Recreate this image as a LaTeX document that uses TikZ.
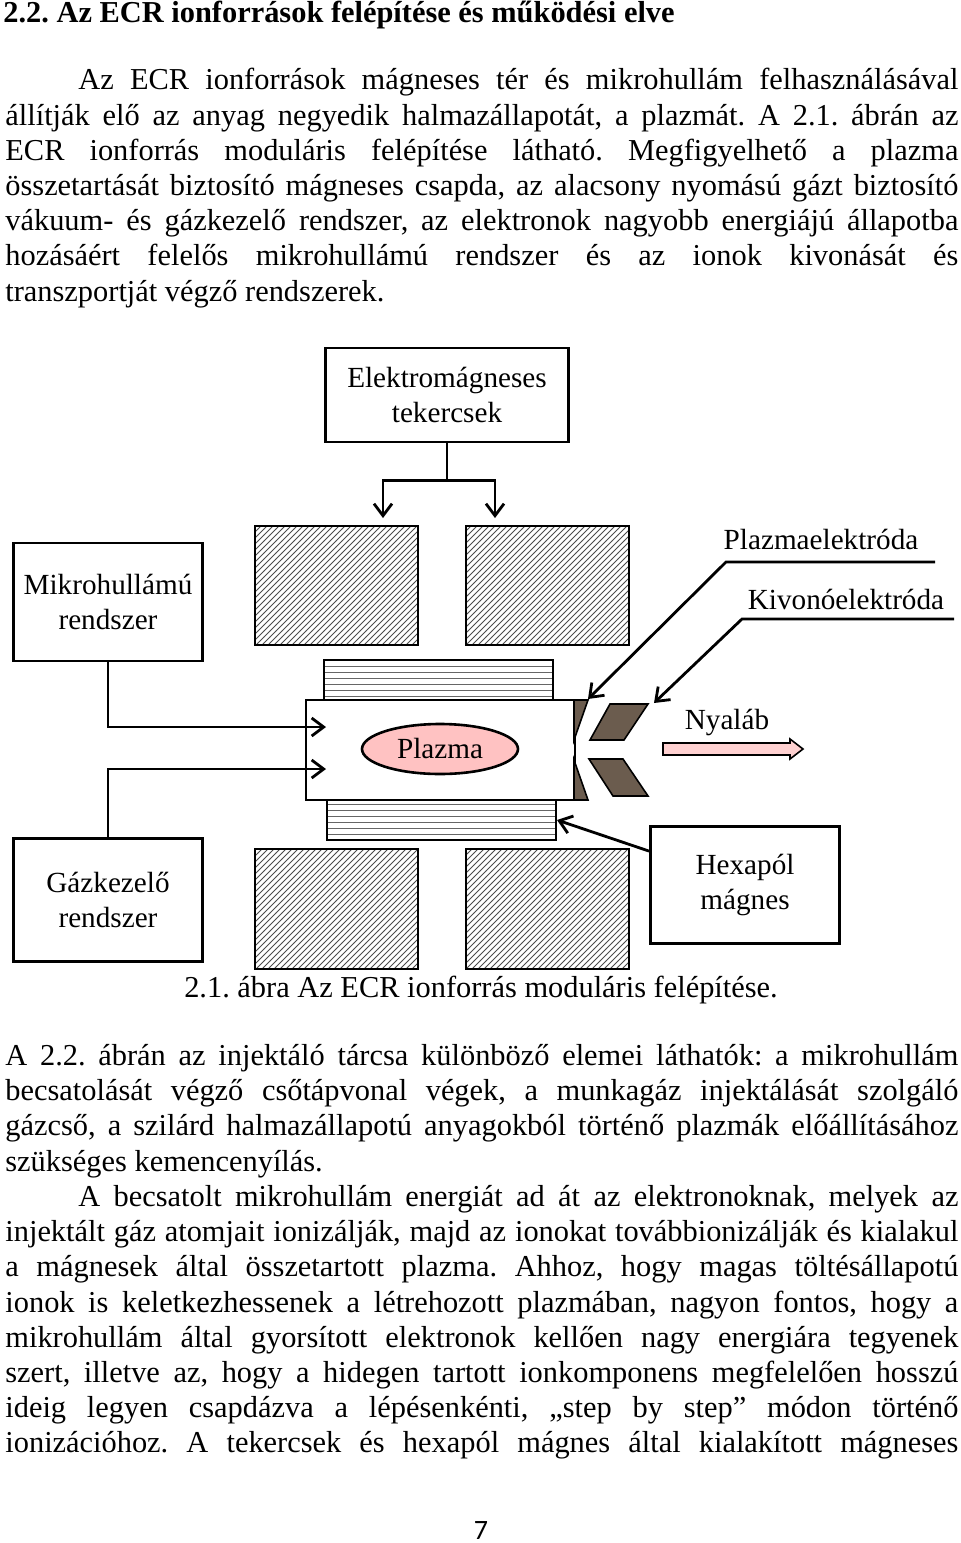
\documentclass[tikz,border=0pt]{standalone}
\usepackage{fontspec}
\setmainfont{Liberation Serif}
\newfontfamily\pagenofont{Carlito}
\usetikzlibrary{patterns,arrows.meta,positioning,shapes.geometric}

\tikzset{
    bodytext/.style={anchor=north west, inner sep=0pt, text width=476.5pt, align=justify,
        font=\fontsize{15.2}{17.6}\selectfont},
    label-box/.style={draw, line width=1.4pt, align=center, font=\fontsize{14.6}{17.5}\selectfont},
    coil/.style={draw, line width=1.3pt, pattern=north east lines, pattern color=black!70},
    hexa/.style={draw, line width=1pt, pattern=horizontal lines, pattern color=black!60},
    electrode/.style={draw, line width=0.8pt, fill=brown!30!black!75},
    feed/.style={line width=1.4pt, -{Straight Barb[length=6pt,width=9pt]}},
    lbl/.style={font=\fontsize{14.6}{17}\selectfont, inner sep=1pt}
}

\begin{document}
\frenchspacing
\begin{tikzpicture}[x=0.5pt,y=-0.5pt]
    \useasboundingbox (0,0) rectangle (960,1543);

    %
    % Page text
    %
    \node[anchor=north west, inner sep=0pt, font=\fontsize{15.2}{17.6}\selectfont\bfseries] (heading) at (3,1) {2.2. Az ECR ionforrások felépítése és működési elve};

    \node[bodytext] (para-a) at (5,68) {\emergencystretch=2em\hspace*{36.5pt}Az ECR ionforrások mágneses tér és mikrohullám felhasználásával\linebreak
        állítják elő az anyag negyedik halmazállapotát, a plazmát. A 2.1. ábrán az\linebreak
        ECR ionforrás moduláris felépítése látható. Megfigyelhető a plazma\linebreak
        összetartását biztosító mágneses csapda, az alacsony nyomású gázt biztosító\linebreak
        vákuum- és gázkezelő rendszer, az elektronok nagyobb energiájú állapotba\linebreak
        hozásáért felelős mikrohullámú rendszer és az ionok kivonását és\linebreak
        transzportját végző rendszerek.};

    \node[bodytext] (para-b) at (5,1044) {\emergencystretch=2em A 2.2. ábrán az injektáló tárcsa különböző elemei láthatók: a mikrohullám\linebreak
        becsatolását végző csőtápvonal végek, a munkagáz injektálását szolgáló\linebreak
        gázcső, a szilárd halmazállapotú anyagokból történő plazmák előállításához\linebreak
        szükséges kemencenyílás.};

    \node[bodytext] (para-c) at (5,1185) {\emergencystretch=2em\hspace*{36.5pt}A becsatolt mikrohullám energiát ad át az elektronoknak, melyek az\linebreak
        injektált gáz atomjait ionizálják, majd az ionokat továbbionizálják és kialakul\linebreak
        a mágnesek által összetartott plazma. Ahhoz, hogy magas töltésállapotú\linebreak
        ionok is keletkezhessenek a létrehozott plazmában, nagyon fontos, hogy a\linebreak
        mikrohullám által gyorsított elektronok kellően nagy energiára tegyenek\linebreak
        szert, illetve az, hogy a hidegen tartott ionkomponens megfelelően hosszú\linebreak
        ideig legyen csapdázva a lépésenkénti, „step by step” módon történő\linebreak
        ionizációhoz. A tekercsek és hexapól mágnes által kialakított mágneses\parfillskip=0pt\par};

    \node[font=\pagenofont\fontsize{14}{16}\selectfont] (page-no) at (481,1530) {7};

    %
    % Diagram: boxes
    %
    \node[label-box, minimum width=121.5pt, minimum height=47pt] (coils) at (447,395) {Elektromágneses\\tekercsek};
    \node[label-box, minimum width=94.5pt, minimum height=59pt] (microwave) at (108,602) {Mikrohullámú\\rendszer};
    \node[label-box, minimum width=94.5pt, minimum height=61.5pt] (gas) at (108,900) {Gázkezelő\\rendszer};
    \node[label-box, minimum width=94.5pt, minimum height=58.5pt] (hexapole) at (745,885) {Hexapól\\mágnes};

    % Solenoid coils
    \foreach \cx in {255,466} {
        \draw[coil] (\cx,526) rectangle ++(163,119);
        \draw[coil] (\cx,849) rectangle ++(163,120);
    }

    % Hexapole strips and chamber
    \draw[hexa] (324,660) rectangle (553,700);
    \draw[hexa] (327,800) rectangle (556,840);
    \draw[line width=0.8pt, fill=white] (306,700) rectangle (575,800);
    \node[draw, line width=1.3pt, fill=red!20!pink!60!white, ellipse, minimum width=78pt, minimum height=25pt, font=\fontsize{14.6}{17}\selectfont] (plasma) at (440,749) {Plazma};

    % Electrodes
    \draw[electrode] (574,700) -- (588,700) -- (574,740) -- cycle;
    \draw[electrode] (574,760) -- (574,800) -- (588,800) -- cycle;
    \draw[electrode] (610,704) -- (648,704) -- (624,740) -- (590,740) -- cycle;
    \draw[electrode] (589,759) -- (623,759) -- (648,796) -- (613,796) -- cycle;
    \coordinate (plasma-el) at (588,699);
    \coordinate (extract-el) at (654,703);

    % Beam
    \node[lbl] (beam-label) at (727,722) {Nyaláb};
    \draw[line width=0.8pt, fill=red!15!pink!50!white] (663,743) -- (790,743) -- (790,739) -- (803,749) -- (790,759) -- (790,755) -- (663,755) -- cycle;

    %
    % Connectors
    %
    \draw[line width=1.4pt] (coils.south) -- ++(0,37) coordinate (split);
    \draw[feed] (split) -| (383,518);
    \draw[feed] (split) -| (495,518);

    \draw[feed] (microwave.south) |- (326,727);
    \draw[feed] (gas.north) |- (326,769);

    \node[lbl, anchor=south] (pe-label) at (821,552) {Plazmaelektróda};
    \node[lbl, anchor=south] (ke-label) at (846,612) {Kivonóelektróda};
    \draw[feed] (935,562) -- (726,562) -- (plasma-el);
    \draw[feed] (954,619) -- (742,619) -- (extract-el);

    \draw[feed] (hexapole.north west) ++(0,26) -- (557,820);

    % Caption
    \node[font=\fontsize{15.2}{17}\selectfont] (caption) at (481,990) {2.1. ábra Az ECR ionforrás moduláris felépítése.};
\end{tikzpicture}
\end{document}
